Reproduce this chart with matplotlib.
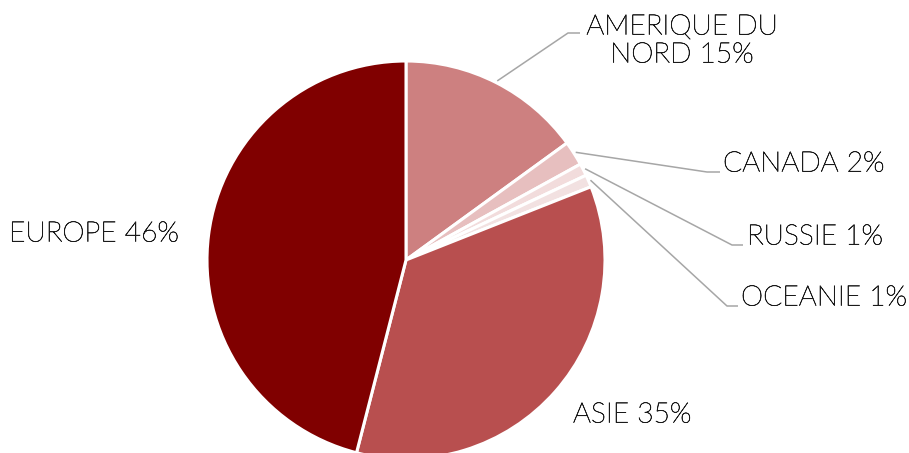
import numpy as np
import matplotlib
matplotlib.use("Agg")
import matplotlib.pyplot as plt
import matplotlib.patheffects as pe
from matplotlib.patches import Rectangle

# data
regions = ["AMERIQUE DU\nNORD", "CANADA", "RUSSIE", "OCEANIE", "ASIE", "EUROPE"]
shares = [15, 2, 1, 1, 35, 46]
colors = ["#CD8080", "#E7BFBF", "#F2DCDC", "#F2E1E1", "#B84F4F", "#800000"]

W, H = 909, 453
CX, CY, R = 406, H - 260, 199

# label layout (pixel coords, y from top): text anchor, elbow x, end x, line y
label_pos = {
    "AMERIQUE DU\nNORD": dict(x=682, y=41, ha="center", elbow=(568, 33), end=580),
    "CANADA": dict(x=723, y=164, ha="left", elbow=(707, 172), end=720),
    "RUSSIE": dict(x=747, y=237, ha="left", elbow=(732, 245), end=743),
    "OCEANIE": dict(x=741, y=298, ha="left", elbow=(727, 306), end=738),
    "ASIE": dict(x=573, y=415, ha="left"),
    "EUROPE": dict(x=9, y=234, ha="left"),
}

plt.rcParams['font.family'] = ['Lato', 'DejaVu Sans']

fig = plt.figure(figsize=(W / 100, H / 100), dpi=100)
ax = fig.add_axes([0, 0, 1, 1])

wedges, _ = ax.pie(shares, colors=colors, startangle=90, counterclock=False,
                   center=(CX, CY), radius=R,
                   wedgeprops=dict(edgecolor="white", linewidth=2.2))

ax.set_xlim(0, W)
ax.set_ylim(0, H)
ax.set_aspect("equal")
ax.axis("off")

thin_dark = [pe.withStroke(linewidth=0.45, foreground="#1a1a1a")]

for w, name, pct in zip(wedges, regions, shares):
    p = label_pos[name]
    txt = ax.text(p["x"], H - p["y"], f"{name} {pct}%", ha=p["ha"], va="center",
                  fontsize=20.3, fontweight="light", color="#1a1a1a",
                  linespacing=1.15, path_effects=thin_dark)
    if name.startswith("AMERIQUE"):
        # text box clips the right edge of the first line
        clip = Rectangle((560, 0), 776 - 560, H, transform=ax.transData)
        txt.set_clip_path(clip)
    if "elbow" in p:
        ang = np.deg2rad((w.theta1 + w.theta2) / 2)
        sx = CX + 1.01 * R * np.cos(ang)
        sy = CY + 1.01 * R * np.sin(ang)
        ex, ey = p["elbow"]
        ax.plot([sx, ex, p["end"]], [sy, H - ey, H - ey],
                color="#A6A6A6", linewidth=1.1, solid_capstyle="butt")

fig.savefig("out.png", dpi=100)
